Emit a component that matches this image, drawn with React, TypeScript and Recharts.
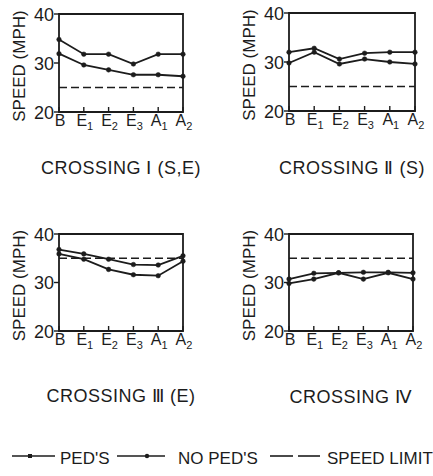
import React from 'react';
import { LineChart, Line, XAxis, YAxis, ReferenceArea, Label } from 'recharts';

const categories = ['B', 'E1', 'E2', 'E3', 'A1', 'A2'];
const yTicks = [20, 30, 40];
const titles = ['CROSSING Ⅰ (S,E)', 'CROSSING Ⅱ (S)', 'CROSSING Ⅲ (E)', 'CROSSING Ⅳ'];
const yLabel = 'SPEED (MPH)';
const legendLabels = ["PED'S", "NO PED'S", 'SPEED LIMIT'];

const pedsI = [31.9, 29.6, 28.6, 27.6, 27.6, 27.3];
const noPedsI = [34.8, 31.8, 31.8, 29.8, 31.8, 31.8];
const limitI = [25, 25, 25, 25, 25, 25];

const pedsII = [29.8, 32, 29.6, 30.6, 30, 29.6];
const noPedsII = [32, 32.8, 30.6, 31.8, 32, 32];
const limitII = [25, 25, 25, 25, 25, 25];

const pedsIII = [35.9, 34.8, 32.7, 31.6, 31.4, 34.4];
const noPedsIII = [36.8, 35.9, 34.8, 33.7, 33.6, 35.5];
const limitIII = [35, 35, 35, 35, 35, 35];

const pedsIV = [29.8, 30.7, 32, 30.7, 32, 30.7];
const noPedsIV = [30.7, 31.9, 32, 32.1, 32.1, 32];
const limitIV = [35, 35, 35, 35, 35, 35];

const FONT = '"Liberation Sans", Arial, sans-serif';
const INK = '#1c1c1c';

const build = (peds: number[], noPeds: number[], limit: number[]) =>
  categories.map((c, i) => ({ cat: c, peds: peds[i], noPeds: noPeds[i], limit: limit[i] }));

const XTick = (props: any) => {
  const { x, y, payload } = props;
  const v = String(payload.value);
  return (
    <g>
      <line x1={x} x2={x} y1={y} y2={y - 5} stroke={INK} strokeWidth={1.4} />
      <text x={x + 1} y={y + 14} textAnchor="middle" fontSize={16} fill={INK} fontFamily={FONT}>
        {v[0]}
        {v.length > 1 && (
          <tspan fontSize={11} dy={4}>
            {v.slice(1)}
          </tspan>
        )}
      </text>
    </g>
  );
};

const YTick = (props: any) => {
  const { x, y, payload } = props;
  return (
    <g>
      <line x1={x - 5} x2={x} y1={y} y2={y} stroke={INK} strokeWidth={1.4} />
      <text x={x - 5} y={y + 6.5} textAnchor="end" fontSize={18} fill={INK} fontFamily={FONT}>
        {payload.value}
      </text>
    </g>
  );
};

type PanelProps = {
  left: number;
  top: number;
  plotW: number;
  plotH: number;
  mRight: number;
  data: any[];
  title: string;
  titleOffset: number;
};

const Panel = ({ left, top, plotW, plotH, mRight, data, title, titleOffset }: PanelProps) => {
  const yAxisW = 59;
  const mTop = 14;
  const xAxisH = 80;
  const width = yAxisW + plotW + mRight;
  const height = mTop + plotH + xAxisH;
  return (
    <div style={{ position: 'absolute', left, top }}>
      <LineChart
        width={width}
        height={height}
        data={data}
        margin={{ top: mTop, right: mRight, bottom: 0, left: 0 }}
      >
        <XAxis
          dataKey="cat"
          interval={0}
          axisLine={false}
          tickLine={false}
          tickSize={0}
          tickMargin={0}
          height={xAxisH}
          tick={<XTick />}
        >
          <Label
            content={(p: any) => {
              const vb = p.viewBox;
              return (
                <text
                  x={vb.x + vb.width / 2}
                  y={vb.y + titleOffset}
                  textAnchor="middle"
                  fontSize={18}
                  letterSpacing={0.5}
                  fill={INK}
                  fontFamily={FONT}
                >
                  {title}
                </text>
              );
            }}
          />
        </XAxis>
        <YAxis
          domain={[20, 40]}
          ticks={yTicks}
          interval={0}
          axisLine={false}
          tickLine={false}
          tickSize={0}
          tickMargin={0}
          width={yAxisW}
          tick={<YTick />}
        >
          <Label
            content={(p: any) => {
              const vb = p.viewBox;
              const cx = vb.x + 19;
              const cy = vb.y + vb.height / 2 + 3;
              return (
                <text
                  x={cx}
                  y={cy}
                  transform={`rotate(-90 ${cx} ${cy})`}
                  textAnchor="middle"
                  dominantBaseline="central"
                  fontSize={17}
                  fill={INK}
                  fontFamily={FONT}
                >
                  {yLabel}
                </text>
              );
            }}
          />
        </YAxis>
        <ReferenceArea
          x1="B"
          x2="A2"
          y1={20}
          y2={40}
          fill="none"
          fillOpacity={0}
          stroke={INK}
          strokeWidth={1.8}
          ifOverflow="visible"
        />
        <Line
          dataKey="limit"
          stroke={INK}
          strokeWidth={1.6}
          strokeDasharray="8 4"
          dot={false}
          activeDot={false}
          isAnimationActive={false}
        />
        <Line
          dataKey="noPeds"
          stroke={INK}
          strokeWidth={1.8}
          dot={{ r: 2.3, fill: INK, stroke: INK, strokeWidth: 0.5 }}
          activeDot={false}
          isAnimationActive={false}
        />
        <Line
          dataKey="peds"
          stroke={INK}
          strokeWidth={1.8}
          dot={{ r: 2.3, fill: INK, stroke: INK, strokeWidth: 0.5 }}
          activeDot={false}
          isAnimationActive={false}
        />
      </LineChart>
    </div>
  );
};

const Legend = () => (
  <svg width={433} height={46} style={{ position: 'absolute', left: 0, top: 430 }}>
    <g stroke={INK} strokeWidth={1.6}>
      <line x1={12} x2={55} y1={26} y2={26} />
      <line x1={117} x2={165} y1={26} y2={26} />
      <line x1={270} x2={293} y1={26} y2={26} />
      <line x1={298} x2={320} y1={26} y2={26} />
    </g>
    <rect x={28} y={24} width={4} height={4} fill={INK} />
    <circle cx={147} cy={26} r={2.2} fill={INK} />
    <g fontSize={17} fill={INK} fontFamily={FONT}>
      <text x={60} y={34}>{legendLabels[0]}</text>
      <text x={178} y={34}>{legendLabels[1]}</text>
      <text x={327} y={34}>{legendLabels[2]}</text>
    </g>
  </svg>
);

export default function App() {
  return (
    <div
      style={{
        position: 'absolute',
        left: 0,
        top: 0,
        width: 433,
        height: 476,
        overflow: 'hidden',
        background: '#fff',
        fontFamily: FONT,
      }}
    >
      <Panel left={0} top={0} plotW={124} plotH={98} mRight={32} data={build(pedsI, noPedsI, limitI)} title={titles[0]} titleOffset={62} />
      <Panel left={230} top={-1} plotW={126} plotH={98} mRight={16} data={build(pedsII, noPedsII, limitII)} title={titles[1]} titleOffset={63} />
      <Panel left={0} top={220} plotW={124} plotH={97} mRight={32} data={build(pedsIII, noPedsIII, limitIII)} title={titles[2]} titleOffset={71} />
      <Panel left={230} top={220} plotW={124} plotH={97} mRight={16} data={build(pedsIV, noPedsIV, limitIV)} title={titles[3]} titleOffset={72} />
      <Legend />
    </div>
  );
}
